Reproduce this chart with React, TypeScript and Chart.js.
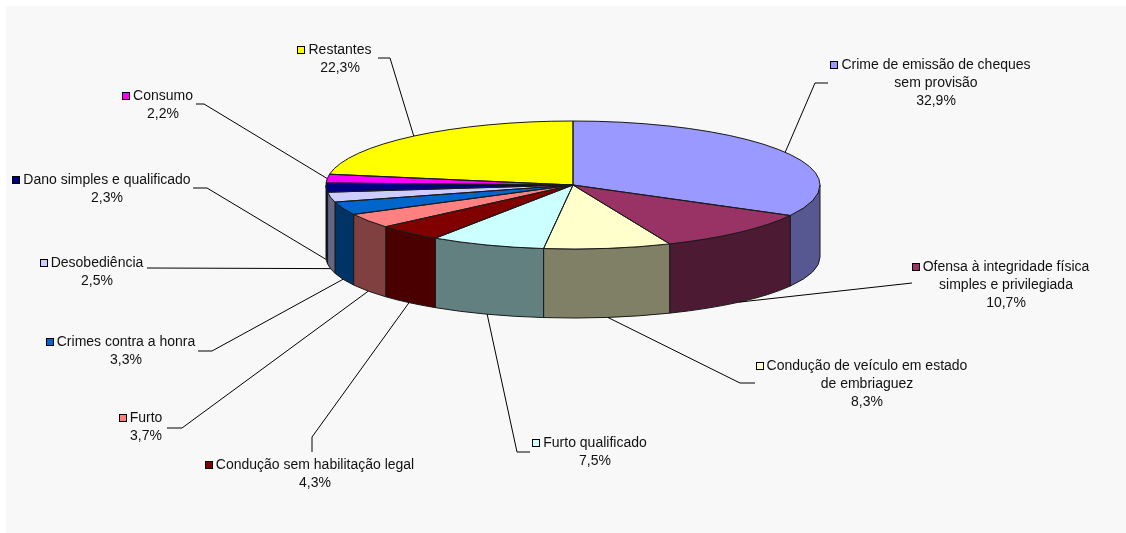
import React, { useEffect, useRef } from 'react';
import { Chart, registerables } from 'chart.js';

Chart.register(...registerables);

// ---------- data ----------
const categories: (string | string[])[] = [
  ['Crime de emissão de cheques', 'sem provisão'],
  ['Ofensa à integridade física', 'simples e privilegiada'],
  ['Condução de veículo em estado', 'de embriaguez'],
  'Furto qualificado',
  'Condução sem habilitação legal',
  'Furto',
  'Crimes contra a honra',
  'Desobediência',
  'Dano simples e qualificado',
  'Consumo',
  'Restantes',
];
const values = [32.9, 10.7, 8.3, 7.5, 4.3, 3.7, 3.3, 2.5, 2.3, 2.2, 22.3];

// ---------- styles ----------
const topColors = [
  '#9999FF', '#993366', '#FFFFCC', '#CCFFFF', '#800000', '#FF8080',
  '#0066CC', '#CCCCFF', '#000080', '#FF00FF', '#FFFF00',
];
const sideColors = [
  '#575792', '#4D1A33', '#808066', '#628080', '#4A0000', '#804040',
  '#003366', '#666680', '#000040', '#800080', '#808000',
];

// ---------- layout ----------
const W = 1126;
const H = 533;
const CX = 573;
const CY = 185;
const RX = 247;
const RY = 64;
const BCY = 257;
const BRY = 61;
const EDGE = '#1a1a1a';
const FONT = '14px "Liberation Sans", Arial, sans-serif';
const LINE_H = 18;

// label block: text centre x, first line centre y, leader points near label
const labelLayout: { cx: number; y: number; leader: [number, number][] }[] = [
  { cx: 936, y: 65, leader: [[828, 83], [815, 83]] },
  { cx: 1006, y: 267, leader: [[912, 283]] },
  { cx: 867, y: 366, leader: [[755, 383], [740, 383]] },
  { cx: 595, y: 443, leader: [[530, 452], [517, 452]] },
  { cx: 315, y: 465, leader: [[312, 452], [312, 437]] },
  { cx: 146, y: 418, leader: [[167, 428], [182, 428]] },
  { cx: 126, y: 342, leader: [[198, 351], [212, 351]] },
  { cx: 97, y: 263, leader: [[147, 268]] },
  { cx: 107, y: 180, leader: [[193, 188], [207, 188]] },
  { cx: 163, y: 96, leader: [[196, 104], [204, 104]] },
  { cx: 340, y: 50, leader: [[378, 58], [390, 58]] },
];

const pie3d = {
  id: 'pie3d',
  beforeDraw(chart: any) {
    const ctx = chart.ctx;
    ctx.save();
    ctx.fillStyle = '#ffffff';
    ctx.fillRect(0, 0, 4000, 4000);
    ctx.fillStyle = '#f8f8f8';
    ctx.fillRect(6, 6, 4000, 4000);
    ctx.restore();
  },
  beforeDatasetsDraw(chart: any) {
    const ctx = chart.ctx;
    const arcs = chart.getDatasetMeta(0).data;
    // side walls (front half only)
    arcs.forEach((arc: any, i: number) => {
      const a = Math.max(arc.startAngle, 0);
      const b = Math.min(arc.endAngle, Math.PI);
      if (b <= a) return;
      ctx.beginPath();
      ctx.ellipse(CX, CY, RX, RY, 0, a, b, false);
      ctx.lineTo(CX + RX * Math.cos(b), BCY + BRY * Math.sin(b));
      ctx.ellipse(CX, BCY, RX, BRY, 0, b, a, true);
      ctx.closePath();
      ctx.fillStyle = sideColors[i];
      ctx.fill();
      ctx.strokeStyle = EDGE;
      ctx.lineWidth = 1;
      ctx.stroke();
    });
    const a0 = arcs[0];
    const R = a0.outerRadius;
    ctx.save();
    ctx.translate(CX, CY);
    ctx.scale(RX / R, RY / R);
    ctx.translate(-a0.x, -a0.y);
  },
  afterDatasetsDraw(chart: any) {
    const ctx = chart.ctx;
    ctx.restore();
    const arcs = chart.getDatasetMeta(0).data;
    ctx.save();
    ctx.strokeStyle = EDGE;
    ctx.lineWidth = 1;
    arcs.forEach((arc: any) => {
      ctx.beginPath();
      ctx.moveTo(CX, CY);
      ctx.ellipse(CX, CY, RX, RY, 0, arc.startAngle, arc.endAngle, false);
      ctx.closePath();
      ctx.stroke();
    });
    ctx.restore();
  },
  afterDraw(chart: any) {
    const ctx = chart.ctx;
    const arcs = chart.getDatasetMeta(0).data;
    ctx.save();
    ctx.font = FONT;
    ctx.textBaseline = 'middle';
    ctx.textAlign = 'center';
    arcs.forEach((arc: any, i: number) => {
      const L = labelLayout[i];
      const mid = (arc.startAngle + arc.endAngle) / 2;
      const front = Math.sin(mid) > 0;
      const ax = CX + RX * Math.cos(mid);
      const ay = front ? BCY + BRY * Math.sin(mid) : CY + RY * Math.sin(mid);
      // leader line
      ctx.beginPath();
      ctx.strokeStyle = '#000';
      ctx.lineWidth = 1;
      L.leader.forEach((p, k) => (k === 0 ? ctx.moveTo(p[0], p[1]) : ctx.lineTo(p[0], p[1])));
      ctx.lineTo(ax, ay);
      ctx.stroke();
      // text lines
      const cat = categories[i];
      const lines = (Array.isArray(cat) ? [...cat] : [cat]) as string[];
      lines.push(values[i].toFixed(1).replace('.', ',') + '%');
      ctx.fillStyle = '#111';
      lines.forEach((t, k) => ctx.fillText(t, L.cx, L.y + k * LINE_H));
      // legend key
      const w = ctx.measureText(lines[0]).width;
      const mx = Math.round(L.cx - w / 2 - 11) + 0.5;
      const my = Math.round(L.y - 4) + 0.5;
      ctx.fillStyle = topColors[i];
      ctx.fillRect(mx, my, 7, 7);
      ctx.strokeStyle = '#000';
      ctx.strokeRect(mx, my, 7, 7);
    });
    ctx.restore();
  },
};

export default function App() {
  const ref = useRef<HTMLCanvasElement | null>(null);
  useEffect(() => {
    if (!ref.current) return;
    const chart = new Chart(ref.current, {
      type: 'pie',
      data: {
        labels: categories.map((c) => (Array.isArray(c) ? c.join(' ') : c)),
        datasets: [
          {
            data: values,
            backgroundColor: topColors,
            borderWidth: 0,
            hoverOffset: 0,
            clip: false as any,
          },
        ],
      },
      options: {
        animation: false,
        responsive: false,
        events: [],
        plugins: { legend: { display: false }, tooltip: { enabled: false } },
      },
      plugins: [pie3d],
    });
    return () => chart.destroy();
  }, []);
  return (
    <div style={{ position: 'absolute', left: 0, top: 0, width: W, height: H }}>
      <canvas ref={ref} width={W} height={H} style={{ display: 'block', width: W, height: H }} />
    </div>
  );
}
